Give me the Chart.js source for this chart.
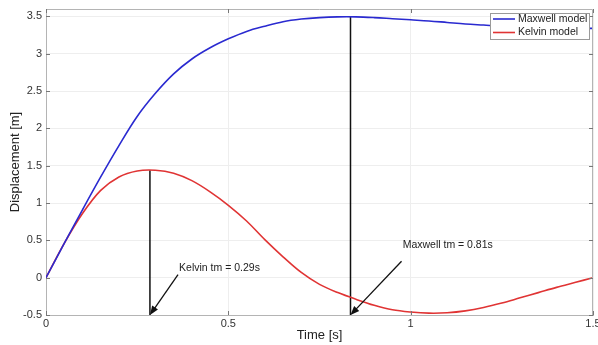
<!DOCTYPE html>
<html><head><meta charset="utf-8">
<script src="https://cdn.jsdelivr.net/npm/chart.js@4/dist/chart.umd.min.js"></script>
<style>html,body{margin:0;padding:0;background:#fff}#wrap{width:598px;height:345px}</style>
</head><body><div id="wrap"><canvas id="c" width="598" height="345"></canvas></div>
<script>
// ---- data ----
const times   = [0,0.05,0.1,0.15,0.2,0.25,0.3,0.35,0.4,0.45,0.5,0.55,0.6,0.65,0.7,0.75,0.8,0.85,0.9,0.95,1.0,1.05,1.1,1.15,1.2,1.25,1.3,1.35,1.4,1.45,1.5];
const maxwell = [0,0.46,0.91,1.35,1.77,2.16,2.47,2.73,2.93,3.08,3.2,3.3,3.37,3.43,3.465,3.485,3.495,3.495,3.485,3.47,3.455,3.44,3.42,3.40,3.385,3.37,3.36,3.35,3.345,3.34,3.34];
const kelvin  = [0,0.46,0.86,1.17,1.35,1.43,1.44,1.40,1.30,1.15,0.97,0.76,0.51,0.28,0.07,-0.09,-0.2,-0.29,-0.37,-0.43,-0.46,-0.475,-0.47,-0.445,-0.40,-0.34,-0.27,-0.2,-0.13,-0.065,0];
const seriesNames = ['Maxwell model','Kelvin model'];
const xTicks = [0,0.5,1,1.5];
const yTicks = [-0.5,0,0.5,1,1.5,2,2.5,3,3.5];
// markers: time of max, value at max
const markerTimes  = [0.285, 0.835];
const markerTops   = [1.44, 3.495];
const markerLabels = ['Kelvin tm = 0.29s','Maxwell tm = 0.81s'];
const labelX = [0.365, 0.978];
const labelY = [0.134, 0.44];
const tailX  = [0.362, 0.975];
const tailY  = [0.04, 0.22];

const colors = ['#2a2ad0','#e03434'];
const FONT = "'Liberation Sans', Arial, sans-serif";

const pts = (xs, ys) => xs.map((t,i)=>({x:t,y:ys[i]}));
const fmt = v => String(Number(v));

const datasets = [
  {label:seriesNames[0], data:pts(times,maxwell), borderColor:colors[0], borderWidth:1.6, pointRadius:0, tension:0.35, fill:false},
  {label:seriesNames[1], data:pts(times,kelvin), borderColor:colors[1], borderWidth:1.6, pointRadius:0, tension:0.35, fill:false},
];
markerTimes.forEach((t,i)=>{
  datasets.push({label:'marker'+i, data:[{x:t,y:markerTops[i]},{x:t,y:-0.5}], borderColor:'#111', borderWidth:1.5, pointRadius:0, tension:0, fill:false});
});

const overlay = {
  id:'overlay',
  afterDatasetsDraw(chart){
    const {ctx, chartArea:a, scales:{x,y}} = chart;
    ctx.save();
    ctx.strokeStyle='#b4b4b4'; ctx.lineWidth=1;
    ctx.beginPath();
    ctx.moveTo(a.left, a.top+0.5); ctx.lineTo(a.right-0.5, a.top+0.5); ctx.lineTo(a.right-0.5, a.bottom);
    ctx.stroke();
    ctx.strokeStyle='#777'; ctx.beginPath();
    xTicks.forEach(v=>{const px=Math.round(x.getPixelForValue(v))+0.5; ctx.moveTo(px,a.bottom); ctx.lineTo(px,a.bottom-4); ctx.moveTo(px,a.top); ctx.lineTo(px,a.top+4);});
    yTicks.forEach(v=>{const py=Math.round(y.getPixelForValue(v))+0.5; ctx.moveTo(a.left,py); ctx.lineTo(a.left+4,py); ctx.moveTo(a.right,py); ctx.lineTo(a.right-4,py);});
    ctx.stroke();
    markerTimes.forEach((t,i)=>{
      const x0=x.getPixelForValue(tailX[i]), y0=y.getPixelForValue(tailY[i]);
      const x1=x.getPixelForValue(t), y1=y.getPixelForValue(-0.5);
      const ang=Math.atan2(y1-y0,x1-x0);
      ctx.strokeStyle='#111'; ctx.fillStyle='#111'; ctx.lineWidth=1.3;
      ctx.beginPath(); ctx.moveTo(x0,y0); ctx.lineTo(x1-6*Math.cos(ang),y1-6*Math.sin(ang)); ctx.stroke();
      const L=9,W=3.5;
      ctx.beginPath();
      ctx.moveTo(x1,y1);
      ctx.lineTo(x1-L*Math.cos(ang)+W*Math.sin(ang), y1-L*Math.sin(ang)-W*Math.cos(ang));
      ctx.lineTo(x1-L*Math.cos(ang)-W*Math.sin(ang), y1-L*Math.sin(ang)+W*Math.cos(ang));
      ctx.closePath(); ctx.fill();
      ctx.font='10.5px '+FONT; ctx.fillStyle='#222'; ctx.textAlign='left'; ctx.textBaseline='middle';
      ctx.fillText(markerLabels[i], x.getPixelForValue(labelX[i]), y.getPixelForValue(labelY[i]));
    });
    const lw=99, lh=26, lx=a.right-4-lw, ly=a.top+4;
    ctx.fillStyle='#fff'; ctx.fillRect(lx,ly,lw,lh);
    ctx.strokeStyle='#9a9a9a'; ctx.lineWidth=1; ctx.strokeRect(lx+0.5,ly+0.5,lw,lh);
    ctx.font='10.5px '+FONT; ctx.textAlign='left'; ctx.textBaseline='middle';
    seriesNames.forEach((n,i)=>{
      const yy=ly+6+i*13.5;
      ctx.strokeStyle=colors[i]; ctx.lineWidth=1.6;
      ctx.beginPath(); ctx.moveTo(lx+3,yy); ctx.lineTo(lx+25,yy); ctx.stroke();
      ctx.fillStyle='#222'; ctx.fillText(n, lx+28, yy);
    });
    ctx.restore();
  }
};

new Chart(document.getElementById('c'), {
  type:'line',
  data:{datasets},
  plugins:[overlay],
  options:{
    responsive:false, devicePixelRatio:1, animation:false,
    layout:{padding:{top:9,right:5,left:0,bottom:0}},
    plugins:{legend:{display:false}, tooltip:{enabled:false}},
    scales:{
      x:{type:'linear', min:0, max:1.5,
        afterBuildTicks:s=>{s.ticks=xTicks.map(v=>({value:v}));},
        afterFit:s=>{s.height=30; s.paddingLeft=0; s.paddingRight=0;},
        ticks:{font:{family:FONT,size:11}, color:'#333', padding:2, maxRotation:0, autoSkip:false, callback:fmt},
        grid:{color:'#eeeeee', drawTicks:false},
        border:{color:'#b4b4b4'},
        title:{display:true, text:'Time [s]', font:{family:FONT,size:13}, color:'#222', padding:{top:0,bottom:2}}
      },
      y:{type:'linear', min:-0.5, max:3.6,
        afterBuildTicks:s=>{s.ticks=yTicks.map(v=>({value:v}));},
        afterFit:s=>{s.width=46; s.paddingTop=0; s.paddingBottom=0;},
        ticks:{font:{family:FONT,size:11}, color:'#333', padding:4, autoSkip:false, callback:fmt},
        grid:{color:'#eeeeee', drawTicks:false},
        border:{color:'#b4b4b4'},
        title:{display:true, text:'Displacement [m]', font:{family:FONT,size:13}, color:'#222', padding:{top:8,bottom:0}}
      }
    }
  }
});
</script>
</body></html>
